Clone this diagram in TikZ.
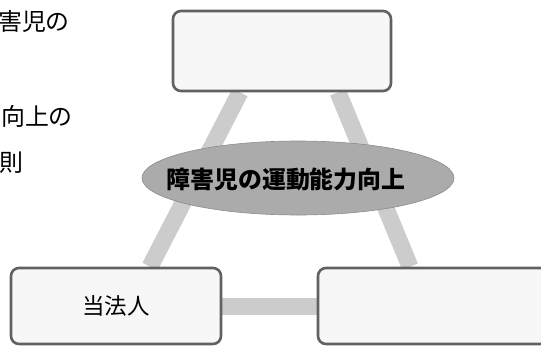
\documentclass[tikz,border=0pt]{standalone}
\usepackage{fontspec}
\setmainfont{Noto Sans CJK JP}
\usetikzlibrary{shapes.geometric,backgrounds}

\begin{document}
\begin{tikzpicture}[x=0.5mm,y=-0.5mm,
  box/.style={draw=black!62,line width=1.3mm,rounded corners=4mm,fill=black!3,inner sep=0pt},
  band/.style={draw=black!20,line width=8.5mm},
  goal/.style={ellipse,fill=black!33,draw=black!45,line width=0.3mm,inner sep=0pt,minimum width=156mm,minimum height=37mm},
  jp/.style={font=\fontsize{34}{34}\selectfont,inner sep=0pt}]
\useasboundingbox (0,0) rectangle (541,347);
\node[box,minimum width=109mm,minimum height=40mm] (top) at (282,51) {};
\node[box,minimum width=105mm,minimum height=38mm] (lft) at (116,306) {\fontsize{32}{32}\selectfont 当法人};
\node[box,minimum width=115mm,minimum height=38mm] (rgt) at (433,306) {};
\node[goal] (aim) at (298,178) {};
\node[jp,font=\fontsize{34}{34}\selectfont\bfseries] (aimtxt) at (286,179) {障害児の運動能力向上};
\node[jp,anchor=west] (t1) at (-2,21) {害児の};
\node[jp,anchor=west] (t2) at (1,116) {向上の};
\node[jp,anchor=west] (t3) at (-1,163) {則};
\begin{scope}[on background layer]
\draw[band] ([xshift=-21mm]top.south) -- ([xshift=17mm]lft.north);
\draw[band] ([xshift=28mm]top.south) -- ([xshift=-11.5mm]rgt.north);
\draw[band] (lft.east) -- (rgt.west);
\end{scope}
\end{tikzpicture}
\end{document}
